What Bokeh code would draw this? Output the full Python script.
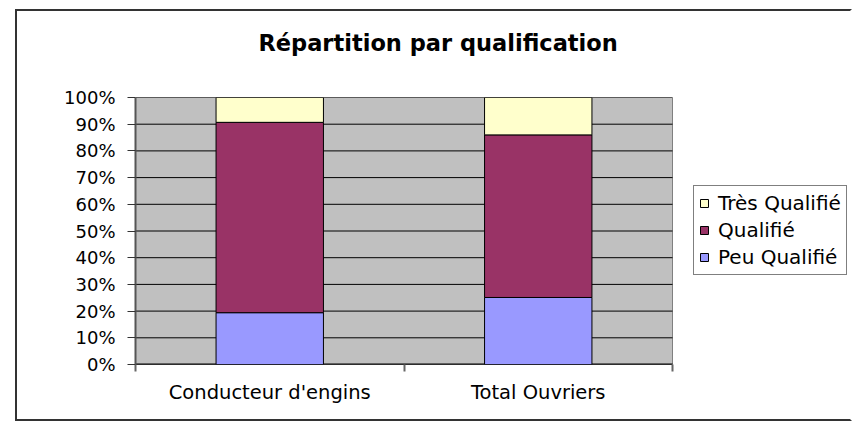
from bokeh.plotting import figure
from bokeh.models import Range1d, FixedTicker, Legend, LegendItem, ColumnDataSource
from bokeh.embed import file_html
from bokeh.resources import INLINE

# ---- data ----
title_text = "Répartition par qualification"
categories = ["Conducteur d'engins", "Total Ouvriers"]
series_names = ["Peu Qualifié", "Qualifié", "Très Qualifié"]
peu_qualifie = [0.194, 0.251]
qualifie = [0.713, 0.609]
tres_qualifie = [0.093, 0.140]
series_colors = ["#9999FF", "#993366", "#FFFFCC"]
y_tick_values = [0.0, 0.1, 0.2, 0.3, 0.4, 0.5, 0.6, 0.7, 0.8, 0.9, 1.0]
y_tick_labels = ["0%", "10%", "20%", "30%", "40%", "50%", "60%", "70%", "80%", "90%", "100%"]

FONT = "DejaVu Sans"

# ---- layout constants (pixels) ----
W, H = 837, 412
LEFT, TOP, BOTTOM = 118, 86, 59
PLOT_AREA_W = 537          # width of the grey plot area
FRAME_W = W - LEFT - 1     # frame also hosts the legend to the right of the plot area

n = len(categories)
xs = [i + 0.5 for i in range(n)]
bounds = [float(i) for i in range(n + 1)]
x_end = n * FRAME_W / PLOT_AREA_W

source = ColumnDataSource(dict(x=xs, peu=peu_qualifie, qual=qualifie, tres=tres_qualifie))

p = figure(width=W, height=H, output_backend="svg", toolbar_location=None,
           x_range=Range1d(0, x_end), y_range=Range1d(0, 1),
           min_border_left=LEFT, min_border_right=1, min_border_top=TOP, min_border_bottom=BOTTOM)

# outer chart-area border (left / top / bottom; right edge lies outside the picture)
p.margin = (9, 0, 0, 15)
p.styles = {"border-left": "2px solid #333333",
            "border-top": "2px solid #333333",
            "border-bottom": "2px solid #333333",
            "border-right": "2px solid #ffffff"}

p.background_fill_color = "white"
p.border_fill_color = "white"
p.outline_line_color = None

# grey plot area
p.quad(left=[bounds[0]], right=[bounds[-1]], bottom=[y_tick_values[0]], top=[y_tick_values[-1]],
       fill_color="#C0C0C0", line_color="#808080", line_width=1)

# horizontal gridlines across the plot area
p.segment(x0=[bounds[0]] * len(y_tick_values), x1=[bounds[-1]] * len(y_tick_values),
          y0=y_tick_values, y1=y_tick_values, line_color="black", line_width=1)
# category axis line
p.segment(x0=[bounds[0]], x1=[bounds[-1]], y0=[y_tick_values[0]], y1=[y_tick_values[0]],
          line_color="black", line_width=2)

renderers = p.vbar_stack(["peu", "qual", "tres"], x="x", width=0.4, source=source,
                         fill_color=series_colors, line_color="black", line_width=1)

# axes
yax = p.yaxis[0]
yax.ticker = FixedTicker(ticks=y_tick_values, minor_ticks=[])
yax.major_label_overrides = {v: l for v, l in zip(y_tick_values, y_tick_labels)}
yax.major_label_text_font = FONT
yax.major_label_text_font_size = "18px"
yax.major_label_text_color = "black"
yax.major_tick_out = 8
yax.major_tick_in = 0
yax.major_tick_line_color = "#333333"
yax.major_tick_line_width = 1
yax.minor_tick_line_color = None
yax.axis_line_color = "#555555"
yax.axis_line_width = 2
yax.major_label_standoff = 12

xax = p.xaxis[0]
xax.ticker = FixedTicker(ticks=xs, minor_ticks=bounds)
xax.major_label_overrides = {v: c for v, c in zip(xs, categories)}
xax.major_label_text_font = FONT
xax.major_label_text_font_size = "19.5px"
xax.major_label_text_color = "black"
xax.major_tick_out = 0
xax.major_tick_in = 0
xax.major_tick_line_color = None
xax.minor_tick_out = 7
xax.minor_tick_in = 0
xax.minor_tick_line_color = "#666666"
xax.minor_tick_line_width = 2
xax.axis_line_color = None
xax.major_label_standoff = 9

p.xgrid.visible = False
p.ygrid.visible = False

# title (empty second line lifts the text higher above the plot area)
p.title.text = title_text + "\n "
p.title.text_font = FONT
p.title.text_font_size = "22.5px"
p.title.text_font_style = "bold"
p.title.text_color = "black"
p.title.align = "left"
p.title.offset = 123
p.title.standoff = 32

# legend (top to bottom: Très, Qualifié, Peu)
items = [LegendItem(label=series_names[i], renderers=[renderers[i]]) for i in (2, 1, 0)]
legend = Legend(items=items, location=(558, 89), orientation="vertical",
                label_text_font=FONT, label_text_font_size="20px", label_text_color="black",
                label_height=20, glyph_height=10, glyph_width=10, label_standoff=9,
                spacing=3, padding=5, margin=0,
                border_line_color="black", border_line_width=1,
                background_fill_color="white", background_fill_alpha=1.0)
p.add_layout(legend)

open("out.html", "w").write(file_html(p, INLINE))
